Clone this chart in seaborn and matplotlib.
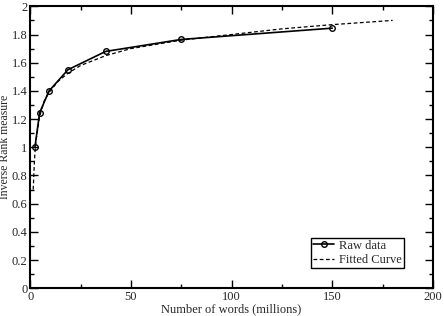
import numpy as np
import pandas as pd
import matplotlib
matplotlib.use('Agg')
import matplotlib.pyplot as plt
import seaborn as sns
from matplotlib.ticker import MultipleLocator, FuncFormatter

# 原始数据
words_raw = [2.34, 4.69, 9.375, 18.75, 37.5, 75, 150]
rank_raw = [1.00, 1.245, 1.40, 1.55, 1.68, 1.765, 1.845]

# 拟合曲线
words_fit = [1.5, 2, 2.34, 3, 4.69, 7, 9.4, 14, 18.75, 25, 37.5, 50, 75, 100, 125, 150, 180]
rank_fit = [0.70, 0.87, 0.96, 1.06, 1.22, 1.33, 1.39, 1.47, 1.525, 1.58, 1.65, 1.70, 1.76, 1.80, 1.84, 1.87, 1.90]

sns.set_theme(style='ticks')
plt.rcParams['font.family'] = ['Liberation Serif', 'DejaVu Serif']

raw = pd.DataFrame({'x': words_raw, 'y': rank_raw})
fit = pd.DataFrame({'x': words_fit, 'y': rank_fit})

fig, ax = plt.subplots(figsize=(4.44, 3.16), dpi=100)
sns.lineplot(data=raw, x='x', y='y', ax=ax, color='black', lw=1.2,
             marker='o', markersize=4, markerfacecolor='none',
             markeredgecolor='black', markeredgewidth=1, label='Raw data')
sns.lineplot(data=fit, x='x', y='y', ax=ax, color='black', lw=0.9,
             linestyle=(0, (3, 2)), label='Fitted Curve')

ax.set_xlim(0, 200)
ax.set_ylim(0, 2)
ax.xaxis.set_major_locator(MultipleLocator(50))
ax.xaxis.set_minor_locator(MultipleLocator(25))
ax.yaxis.set_major_locator(MultipleLocator(0.2))
ax.yaxis.set_minor_locator(MultipleLocator(0.1))
ax.yaxis.set_major_formatter(FuncFormatter(lambda v, p: f'{v:.1f}'.rstrip('0').rstrip('.')))
ax.tick_params(which='both', direction='in', top=True, right=True, labelsize=9,
               color='black', pad=2)
ax.tick_params(which='major', length=6, width=1)
ax.tick_params(which='minor', length=3, width=1)
for s in ax.spines.values():
    s.set_linewidth(1.5)
    s.set_color('black')

ax.set_xlabel('Number of words (millions)', fontsize=9, labelpad=0)
ax.set_ylabel('Inverse Rank measure', fontsize=8.5)
ax.yaxis.set_label_coords(-0.048, 0.5)

leg = ax.legend(loc='lower right', fontsize=9, frameon=True, fancybox=False,
                edgecolor='black', framealpha=1, handlelength=1.7,
                borderpad=0.15, labelspacing=0.2, handletextpad=0.4,
                borderaxespad=0, bbox_to_anchor=(0.928, 0.071))
leg.get_frame().set_linewidth(1)

plt.subplots_adjust(left=0.068, right=0.975, top=0.98, bottom=0.088)
plt.savefig('out.png', dpi=100)
plt.close()
